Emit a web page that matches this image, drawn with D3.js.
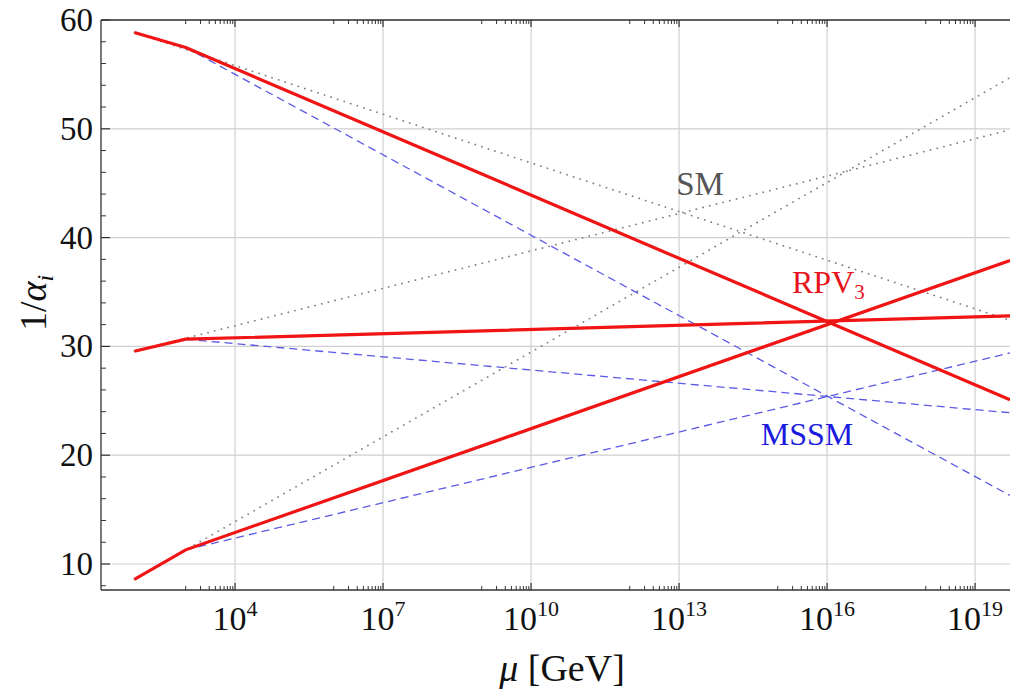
<!DOCTYPE html>
<html>
<head>
<meta charset="utf-8">
<script src="https://cdn.jsdelivr.net/npm/d3@7"></script>
<style>
  body { margin: 0; background: #fff; }
  text { font-family: "Liberation Serif", "DejaVu Serif", serif; }
</style>
</head>
<body>
<div id="chart"></div>
<script>
// scale points (GeV): mZ, SUSY/RPV threshold, right edge of the plot
const muPoints = [91.2, 1e3, 5.1e19];

// 1/alpha_i, for i = 1, 2, 3
const rpv1 = [58.85, 57.47, 25.1];
const rpv2 = [29.56, 30.66, 32.8];
const rpv3 = [8.59, 11.3, 37.9];

const sm1 = [58.85, 32.4];
const sm2 = [29.56, 49.9];
const sm3 = [8.59, 54.7];

const mssm1 = [57.47, 16.3];
const mssm2 = [30.66, 23.9];
const mssm3 = [11.3, 29.4];

const xTickExp = [4, 7, 10, 13, 16, 19];
const yTicks = [10, 20, 30, 40, 50, 60];
const yMinor = [8, 12, 14, 16, 18, 22, 24, 26, 28, 32, 34, 36, 38, 42, 44, 46, 48, 52, 54, 56, 58];

const width = 1010, height = 691;
const margin = {top: 20, right: 0, bottom: 101, left: 101};

const svg = d3.select('#chart').append('svg')
    .attr('width', width)
    .attr('height', height);

const x = d3.scaleLog()
    .domain([19.2, 5.1e19])
    .range([margin.left, width - margin.right]);

const y = d3.scaleLinear()
    .domain([7.61, 60])
    .range([height - margin.bottom, margin.top]);

// grid
svg.append('g').selectAll('line.vgrid')
    .data(xTickExp)
  .join('line')
    .attr('x1', d => x(Math.pow(10, d))).attr('x2', d => x(Math.pow(10, d)))
    .attr('y1', margin.top).attr('y2', height - margin.bottom)
    .attr('stroke', '#cfcfcf').attr('stroke-width', 1.2);

svg.append('g').selectAll('line.hgrid')
    .data(yTicks)
  .join('line')
    .attr('x1', margin.left).attr('x2', width)
    .attr('y1', d => y(d)).attr('y2', d => y(d))
    .attr('stroke', '#cfcfcf').attr('stroke-width', 1.2);

// clip for the curves
svg.append('clipPath').attr('id', 'plot-clip')
  .append('rect')
    .attr('x', margin.left).attr('y', margin.top)
    .attr('width', width - margin.left).attr('height', height - margin.top - margin.bottom);

const line = d3.line().x(d => x(d[0])).y(d => y(d[1]));
const plot = svg.append('g').attr('clip-path', 'url(#plot-clip)');

const smMu = [muPoints[0], muPoints[2]];
const mssmMu = [muPoints[1], muPoints[2]];

[sm1, sm2, sm3].forEach(s => {
  plot.append('path')
      .attr('d', line(d3.zip(smMu, s)))
      .attr('fill', 'none')
      .attr('stroke', '#808080')
      .attr('stroke-width', 1.8)
      .attr('stroke-linecap', 'round')
      .attr('stroke-dasharray', '0.1 6.8');
});

[mssm1, mssm2, mssm3].forEach(s => {
  plot.append('path')
      .attr('d', line(d3.zip(mssmMu, s)))
      .attr('fill', 'none')
      .attr('stroke', '#5a5ae6')
      .attr('stroke-width', 1.3)
      .attr('stroke-dasharray', '8 5');
});

[rpv1, rpv2, rpv3].forEach(s => {
  plot.append('path')
      .attr('d', line(d3.zip(muPoints, s)))
      .attr('fill', 'none')
      .attr('stroke', '#f01414')
      .attr('stroke-width', 3.2);
});

// frame
const frameColor = '#333';
svg.append('line')
    .attr('x1', margin.left).attr('x2', margin.left)
    .attr('y1', margin.top).attr('y2', height - margin.bottom)
    .attr('stroke', frameColor).attr('stroke-width', 1.3);
svg.append('line')
    .attr('x1', margin.left).attr('x2', width)
    .attr('y1', margin.top).attr('y2', margin.top)
    .attr('stroke', frameColor).attr('stroke-width', 1.3);
svg.append('line')
    .attr('x1', margin.left).attr('x2', width)
    .attr('y1', height - margin.bottom).attr('y2', height - margin.bottom)
    .attr('stroke', frameColor).attr('stroke-width', 1.3);

// x ticks (major + minor k*10^(n-1)) on top and bottom
const xMinor = [];
xTickExp.forEach(e => {
  for (let k = 1; k <= 9; k++) xMinor.push(k * Math.pow(10, e - 1));
});
const yb = height - margin.bottom, yt = margin.top;
svg.append('g').selectAll('line')
    .data(xMinor)
  .join('line')
    .attr('x1', d => x(d)).attr('x2', d => x(d))
    .attr('y1', yb).attr('y2', yb - 4)
    .attr('stroke', frameColor).attr('stroke-width', 1);
svg.append('g').selectAll('line')
    .data(xMinor)
  .join('line')
    .attr('x1', d => x(d)).attr('x2', d => x(d))
    .attr('y1', yt).attr('y2', yt + 4)
    .attr('stroke', frameColor).attr('stroke-width', 1);
svg.append('g').selectAll('line')
    .data(xTickExp)
  .join('line')
    .attr('x1', d => x(Math.pow(10, d))).attr('x2', d => x(Math.pow(10, d)))
    .attr('y1', yb).attr('y2', yb - 7)
    .attr('stroke', frameColor).attr('stroke-width', 1.2);
svg.append('g').selectAll('line')
    .data(xTickExp)
  .join('line')
    .attr('x1', d => x(Math.pow(10, d))).attr('x2', d => x(Math.pow(10, d)))
    .attr('y1', yt).attr('y2', yt + 7)
    .attr('stroke', frameColor).attr('stroke-width', 1.2);

// x tick labels
const xLab = svg.append('g').selectAll('text')
    .data(xTickExp)
  .join('text')
    .attr('x', d => x(Math.pow(10, d)))
    .attr('y', 630)
    .attr('text-anchor', 'middle')
    .attr('font-size', 34)
    .attr('fill', '#111');
xLab.append('tspan').text('10');
xLab.append('tspan').attr('dy', -14).attr('font-size', 22).text(d => d);

// y ticks
svg.append('g').selectAll('line')
    .data(yTicks)
  .join('line')
    .attr('x1', margin.left).attr('x2', margin.left + 9)
    .attr('y1', d => y(d)).attr('y2', d => y(d))
    .attr('stroke', frameColor).attr('stroke-width', 1.2);
svg.append('g').selectAll('line')
    .data(yMinor)
  .join('line')
    .attr('x1', margin.left).attr('x2', margin.left + 5)
    .attr('y1', d => y(d)).attr('y2', d => y(d))
    .attr('stroke', frameColor).attr('stroke-width', 1);

svg.append('g').selectAll('text')
    .data(yTicks)
  .join('text')
    .attr('x', 93)
    .attr('y', d => y(d) + 11)
    .attr('text-anchor', 'end')
    .attr('font-size', 33)
    .attr('fill', '#111')
    .text(d => d);

// axis titles
const yTitle = svg.append('text')
    .attr('transform', 'translate(46,303) rotate(-90)')
    .attr('text-anchor', 'middle')
    .attr('font-size', 38)
    .attr('fill', '#111');
yTitle.append('tspan').text('1/');
yTitle.append('tspan').attr('font-style', 'italic').text('α');
yTitle.append('tspan').attr('font-style', 'italic').attr('font-size', 24).attr('dy', 7).text('i');

const xTitle = svg.append('text')
    .attr('x', 562)
    .attr('y', 681)
    .attr('text-anchor', 'middle')
    .attr('font-size', 38)
    .attr('fill', '#111');
xTitle.append('tspan').attr('font-style', 'italic').text('μ');
xTitle.append('tspan').text(' [GeV]');

// curve labels
svg.append('text')
    .attr('x', 700).attr('y', 195)
    .attr('text-anchor', 'middle')
    .attr('font-size', 33)
    .attr('fill', '#555')
    .text('SM');

const rpvLab = svg.append('text')
    .attr('x', 792).attr('y', 293)
    .attr('font-size', 32)
    .attr('fill', '#e8121a');
rpvLab.append('tspan').text('RPV');
rpvLab.append('tspan').attr('font-size', 21).attr('dy', 6).text('3');

svg.append('text')
    .attr('x', 807).attr('y', 445)
    .attr('text-anchor', 'middle')
    .attr('font-size', 32)
    .attr('fill', '#1a1ae0')
    .text('MSSM');
</script>
</body>
</html>
